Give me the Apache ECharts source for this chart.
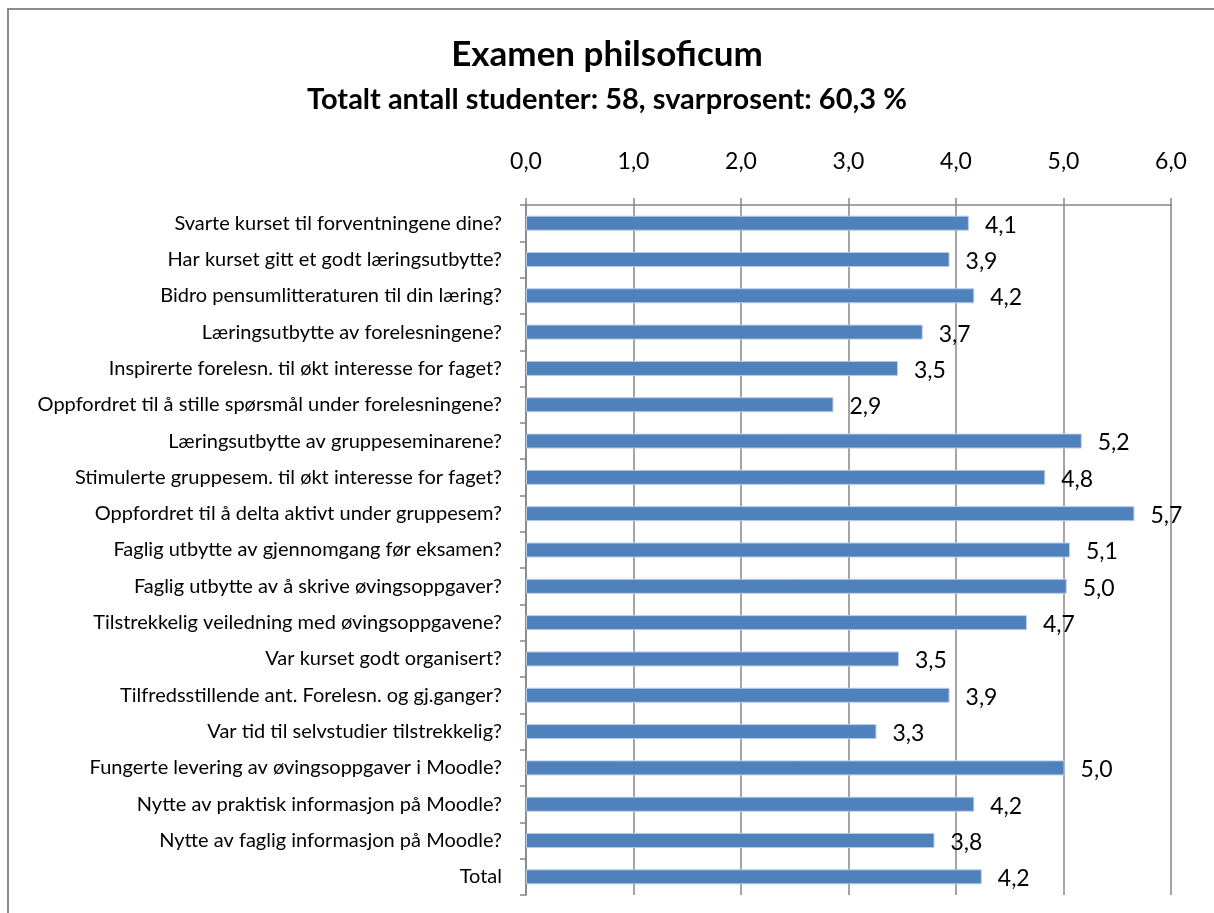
<!DOCTYPE html>
<html>
<head>
<meta charset="utf-8">
<script src="https://cdn.jsdelivr.net/npm/echarts@6/dist/echarts.min.js"></script>
<style>
  html, body { margin: 0; padding: 0; background: #fff; }
  #chart { width: 1214px; height: 913px; }
</style>
</head>
<body>
<div id="chart"></div>
<script>
// spørsmål, topp til bunn
const categories = [
  'Svarte kurset til forventningene dine?',
  'Har kurset gitt et godt læringsutbytte?',
  'Bidro pensumlitteraturen til din læring?',
  'Læringsutbytte av forelesningene?',
  'Inspirerte forelesn. til økt interesse for faget?',
  'Oppfordret til å stille spørsmål under forelesningene?',
  'Læringsutbytte av gruppeseminarene?',
  'Stimulerte gruppesem. til økt interesse for faget?',
  'Oppfordret til å delta aktivt under gruppesem?',
  'Faglig utbytte av gjennomgang før eksamen?',
  'Faglig utbytte av å skrive øvingsoppgaver?',
  'Tilstrekkelig veiledning med øvingsoppgavene?',
  'Var kurset godt organisert?',
  'Tilfredsstillende ant. Forelesn. og gj.ganger?',
  'Var tid til selvstudier tilstrekkelig?',
  'Fungerte levering av øvingsoppgaver i Moodle?',
  'Nytte av praktisk informasjon på Moodle?',
  'Nytte av faglig informasjon på Moodle?',
  'Total'
];
const scores = [4.12, 3.94, 4.17, 3.69, 3.46, 2.86, 5.17, 4.83, 5.66, 5.06, 5.03, 4.66, 3.47, 3.94, 3.26, 5.01, 4.17, 3.80, 4.24];
const tickValues = [0, 1, 2, 3, 4, 5, 6];

const fmt = v => (Math.round(v * 10) / 10).toFixed(1).replace('.', ',');
const gray = '#868686';
const font = 'Lato';

const chart = echarts.init(document.getElementById('chart'));
chart.setOption({
  animation: false,
  textStyle: { fontFamily: font, color: '#000' },
  title: [
    {
      text: 'Examen philsoficum',
      left: 'center', top: 32,
      textStyle: { fontFamily: font, fontSize: 35, fontWeight: 'bold', color: '#000' }
    },
    {
      text: 'Totalt antall studenter: 58, svarprosent: 60,3 %',
      left: 'center', top: 80,
      textStyle: { fontFamily: font, fontSize: 29, fontWeight: 'bold', color: '#000' }
    }
  ],
  graphic: [{
    type: 'rect',
    shape: { x: 8, y: 9, width: 1230, height: 930 },
    style: { fill: 'none', stroke: '#8c8c8c', lineWidth: 2 },
    silent: true
  }],
  grid: { left: 526, right: 43, top: 205, bottom: 18 },
  xAxis: {
    type: 'value',
    position: 'top',
    min: tickValues[0],
    max: tickValues[tickValues.length - 1],
    interval: 1,
    axisLine: { show: true, lineStyle: { color: gray, width: 1.5 } },
    axisTick: { show: true, length: 7, lineStyle: { color: gray, width: 1.5 } },
    splitLine: { show: true, lineStyle: { color: gray, width: 1.5 } },
    axisLabel: { margin: 32, fontSize: 23, color: '#000', formatter: v => fmt(v) }
  },
  yAxis: {
    type: 'category',
    inverse: true,
    data: categories,
    axisLine: { show: true, lineStyle: { color: gray, width: 1.5 } },
    axisTick: { show: true, length: 6, lineStyle: { color: gray, width: 1.5 } },
    axisLabel: { margin: 24, fontSize: 20, color: '#000' }
  },
  series: [{
    type: 'bar',
    data: scores,
    barWidth: 15,
    itemStyle: { color: '#4f81bd', borderColor: '#b9cce4', borderWidth: 1 },
    label: {
      show: true,
      position: 'right',
      distance: 16,
      offset: [0, 2],
      fontSize: 23,
      color: '#000',
      formatter: p => fmt(p.value)
    }
  }]
});
</script>
</body>
</html>
